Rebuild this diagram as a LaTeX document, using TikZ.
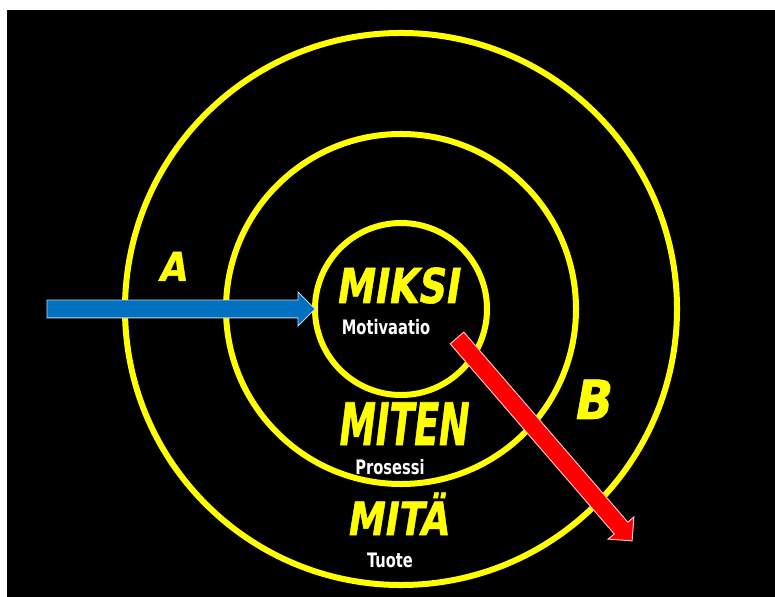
\documentclass[tikz,border=0pt]{standalone}
\usepackage{fontspec}
\usetikzlibrary{shapes.arrows, positioning}
\newfontfamily\impactfont{DejaVu Sans Condensed Bold}[FakeSlant=0.18, FakeBold=1.2]
\newfontfamily\labelfont{DejaVu Sans Condensed Bold}[FakeStretch=0.82]
\definecolor{ringyellow}{RGB}{255,255,0}
\definecolor{arrowblue}{RGB}{0,112,192}
\definecolor{edgeblue}{RGB}{190,215,240}
\definecolor{arrowred}{RGB}{255,0,0}
\definecolor{edgered}{RGB}{255,200,200}

\begin{document}
\begin{tikzpicture}[x=0.03cm, y=-0.03cm,
    ring/.style={circle, draw=ringyellow, line width=0.18cm, inner sep=0pt, outer sep=0pt},
    word/.style={text=ringyellow, anchor=base},
    sublabel/.style={text=white, anchor=base, font=\labelfont\fontsize{17}{17}\selectfont},
    fatarrow/.style={single arrow, inner sep=0pt, outer sep=0pt, line width=0.8pt,
                     text height=0.51cm, single arrow head extend=0.24cm, minimum width=1cm}
]
    % background
    \fill[white] (0,0) rectangle (775,597);
    \fill[black] (7,10) rectangle (775,597);

    % rings
    \coordinate (c) at (401,309);
    \node[ring, minimum size=16.56cm] (outer) at (c) {};
    \node[ring, minimum size=10.5cm] (middle) at (c) {};
    \node[ring, minimum size=5.16cm] (inner) at (c) {};

    % arrows
    \node[fatarrow, fill=arrowblue, draw=edgeblue, minimum height=8.04cm, anchor=tip] (arrA) at (inner.west) {};
    \coordinate (bStart) at (457,338);
    \node[fatarrow, fill=arrowred, draw=edgered, minimum height=8.04cm, rotate=-49.2, anchor=tail] (arrB) at (bStart) {};

    % words
    \node[word, font=\impactfont\fontsize{41}{41}\selectfont] (miksi) at (397,303) {\scalebox{0.88}[1]{MIKSI}};
    \node[sublabel] (motiv) at (386,335) {Motivaatio};
    \node[word, font=\impactfont\fontsize{50}{50}\selectfont] (miten) at (402,445) {\scalebox{0.69}[1]{MITEN}};
    \node[sublabel] (prosessi) at (390,474) {Prosessi};
    \node[word, font=\impactfont\fontsize{39}{39}\selectfont] (mita) at (397,535) {\scalebox{0.9}[1]{MITÄ}};
    \node[sublabel] (tuote) at (390,567) {Tuote};
    \node[word, font=\impactfont\fontsize{34}{34}\selectfont] (lblA) at (172,281) {A};
    \node[word, font=\impactfont\fontsize{46}{46}\selectfont] (lblB) at (591,419) {B};
\end{tikzpicture}
\end{document}
